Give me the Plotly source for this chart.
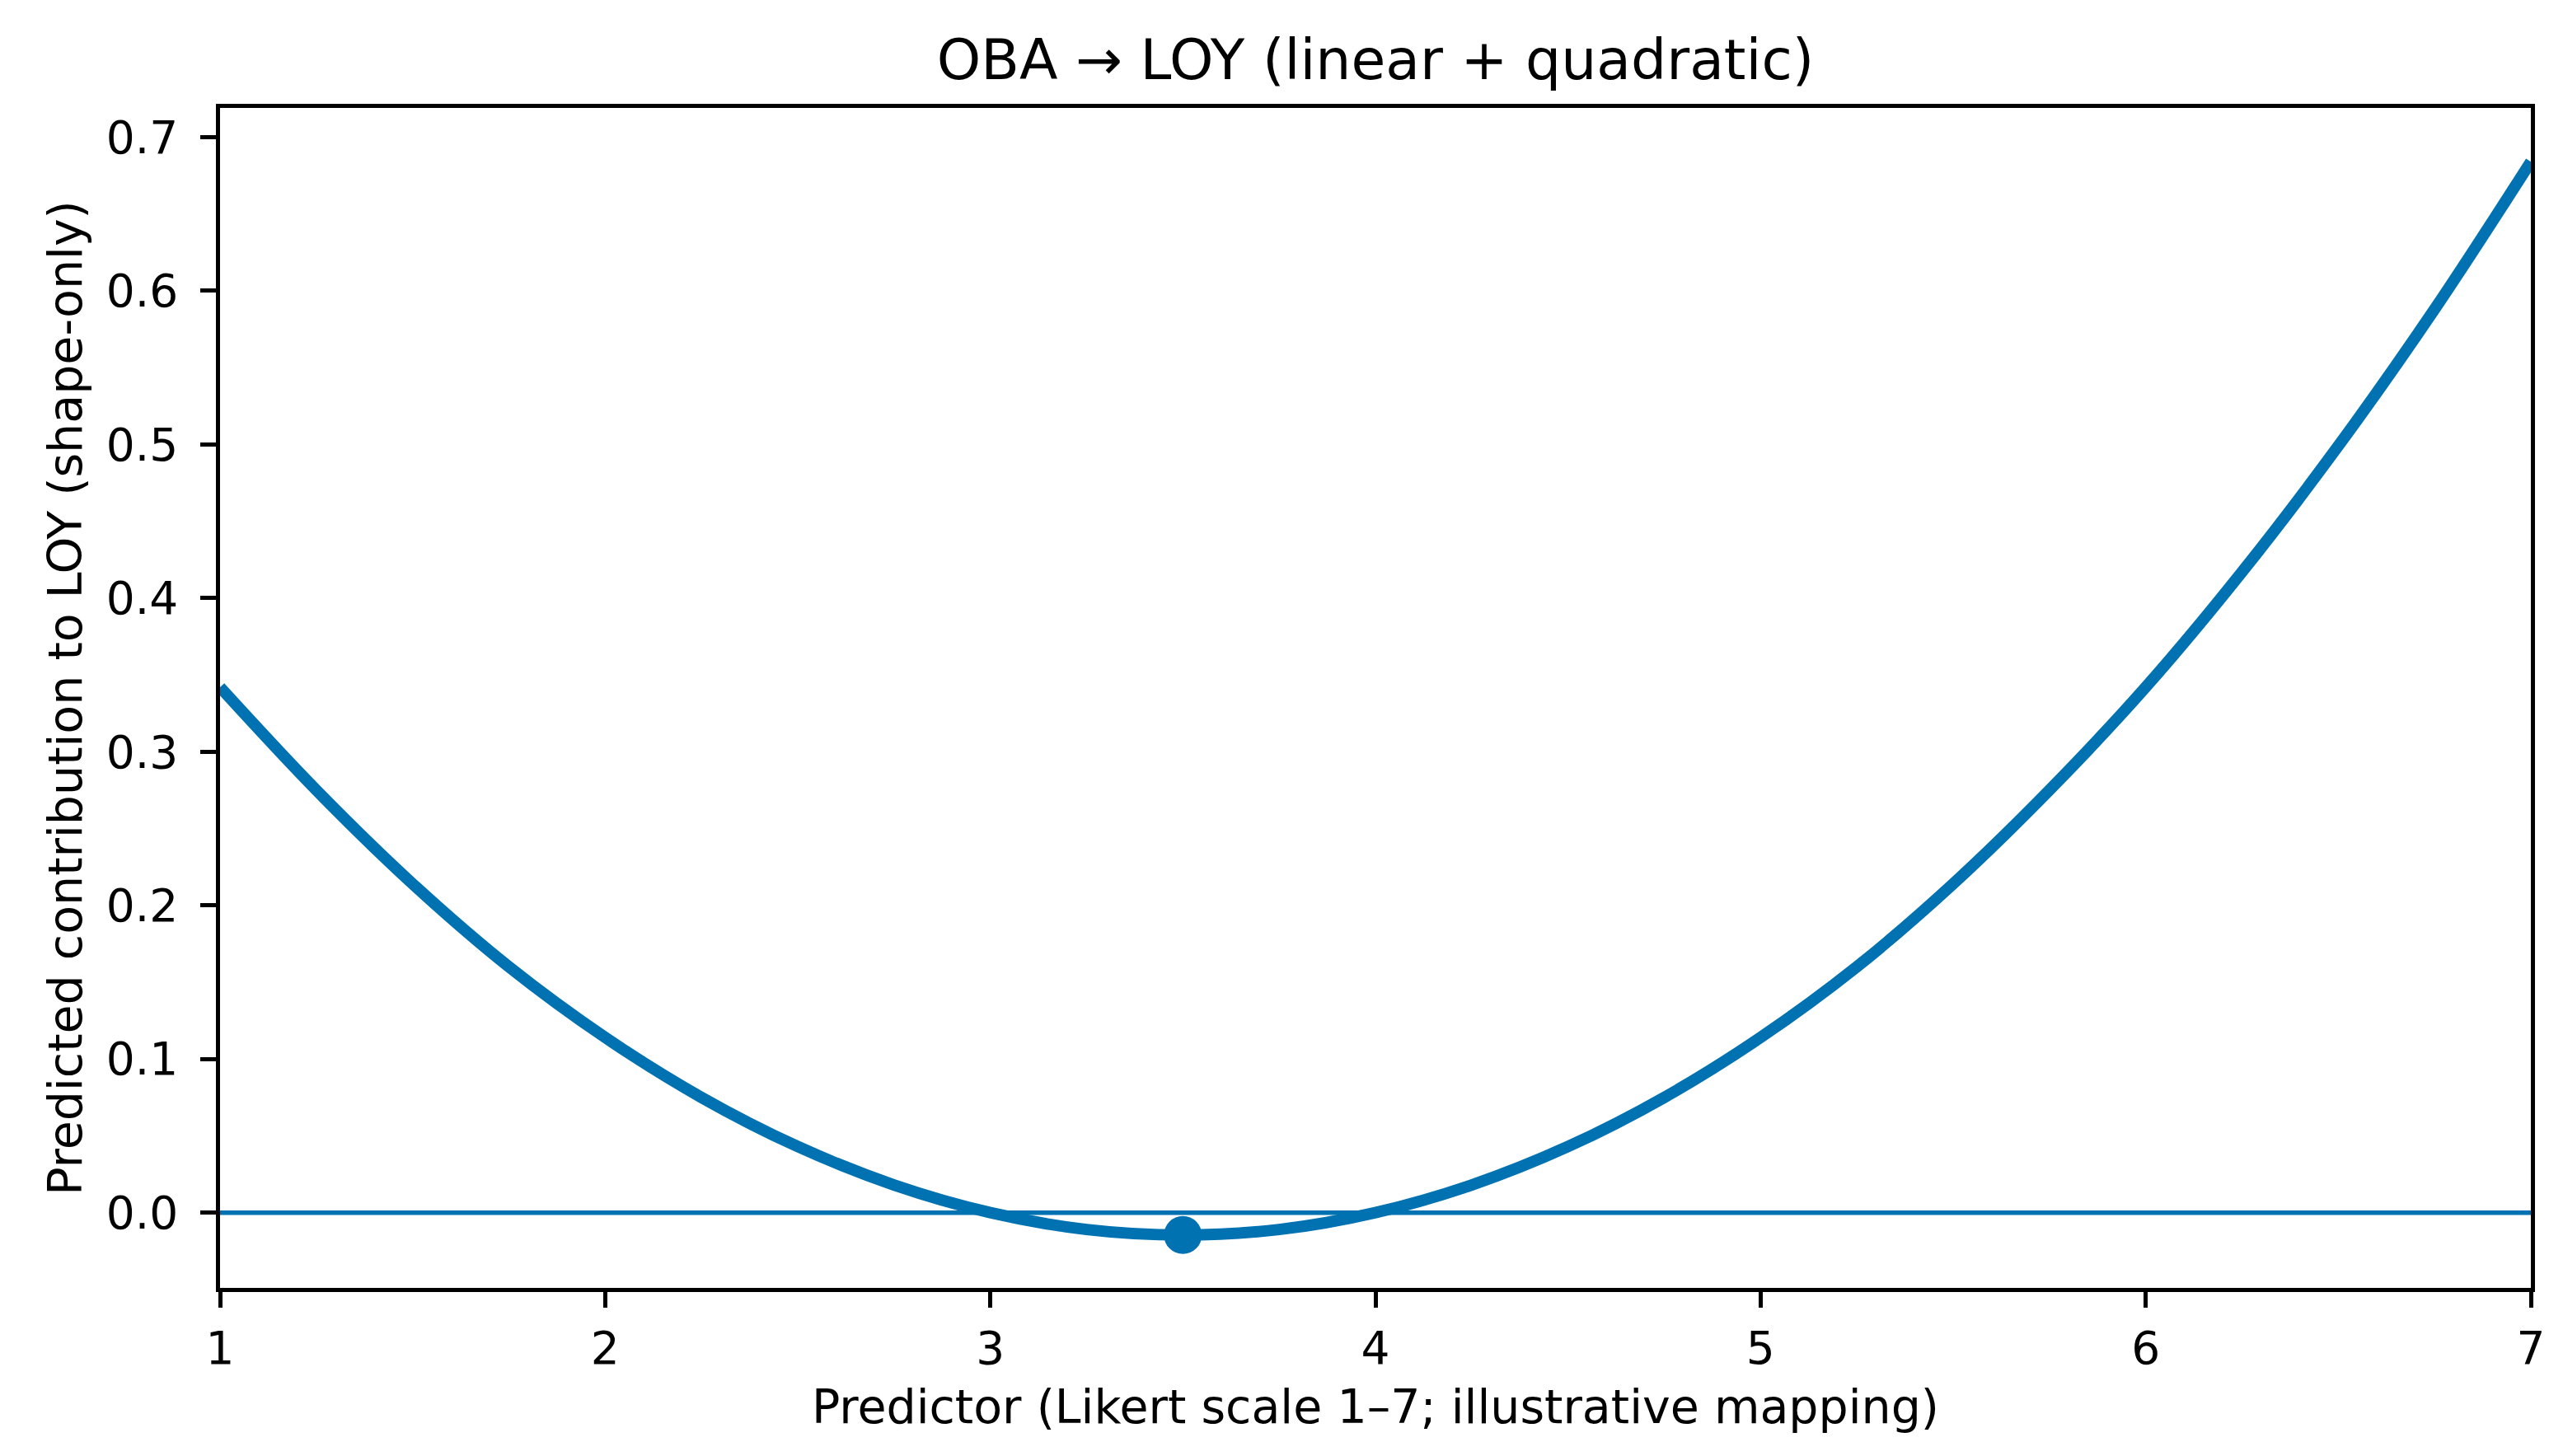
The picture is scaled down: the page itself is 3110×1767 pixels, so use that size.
import plotly.graph_objects as go

# values
predictor = [1.0, 1.25, 1.5, 1.75, 2.0, 2.25, 2.5, 2.75, 3.0, 3.25, 3.5, 3.75, 4.0,
             4.25, 4.5, 4.75, 5.0, 5.25, 5.5, 5.75, 6.0, 6.25, 6.5, 6.75, 7.0]
contribution = [0.342, 0.275, 0.214, 0.160, 0.114, 0.075, 0.043, 0.018, 0.000, -0.011,
                -0.0146, -0.011, 0.000, 0.018, 0.043, 0.075, 0.114, 0.160, 0.214, 0.275,
                0.342, 0.417, 0.499, 0.588, 0.684]

# turning point of the fitted curve
vertex_x = [3.5]
vertex_y = [-0.0146]

# reference line at zero
zero_x = [1, 7]
zero_y = [0, 0]

x_ticks = [1, 2, 3, 4, 5, 6, 7]
y_ticks = [0.0, 0.1, 0.2, 0.3, 0.4, 0.5, 0.6, 0.7]

blue = "#0072B2"
font_family = "DejaVu Sans"

fig = go.Figure()
fig.add_trace(go.Scatter(x=predictor, y=contribution, mode="lines",
                         line=dict(color=blue, width=14, shape="spline"),
                         showlegend=False))
fig.add_trace(go.Scatter(x=zero_x, y=zero_y, mode="lines",
                         line=dict(color=blue, width=5.5), showlegend=False))
fig.add_trace(go.Scatter(x=vertex_x, y=vertex_y, mode="markers",
                         marker=dict(color=blue, size=46), showlegend=False))

axis_common = dict(showline=True, mirror=True, linecolor="black", linewidth=4.5,
                   ticks="outside", ticklen=19, tickwidth=4.5, tickcolor="black",
                   showgrid=False, zeroline=False,
                   tickfont=dict(family=font_family, size=55, color="black"))

fig.update_layout(
    width=3110, height=1767, autosize=False,
    margin=dict(l=259, r=47, t=123, b=212),
    paper_bgcolor="white", plot_bgcolor="white",
    font=dict(family=font_family, size=57, color="black"),
    title=dict(text="OBA → LOY (linear + quadratic)", x=0.5, xref="paper",
               y=1 - 64 / 1767, yref="container", yanchor="middle",
               font=dict(family=font_family, size=68, color="black")),
    xaxis=dict(range=[1, 7], tickvals=x_ticks, ticklabelstandoff=2, **axis_common,
               title=dict(text="Predictor (Likert scale 1–7; illustrative mapping)",
                          standoff=22, font=dict(size=57))),
    yaxis=dict(range=[-0.049, 0.719], tickvals=y_ticks, tickformat=".1f",
               ticklabelstandoff=16, **axis_common,
               title=dict(text="Predicted contribution to LOY (shape-only)",
                          standoff=12, font=dict(size=57))),
)

fig.write_html("out.html")
